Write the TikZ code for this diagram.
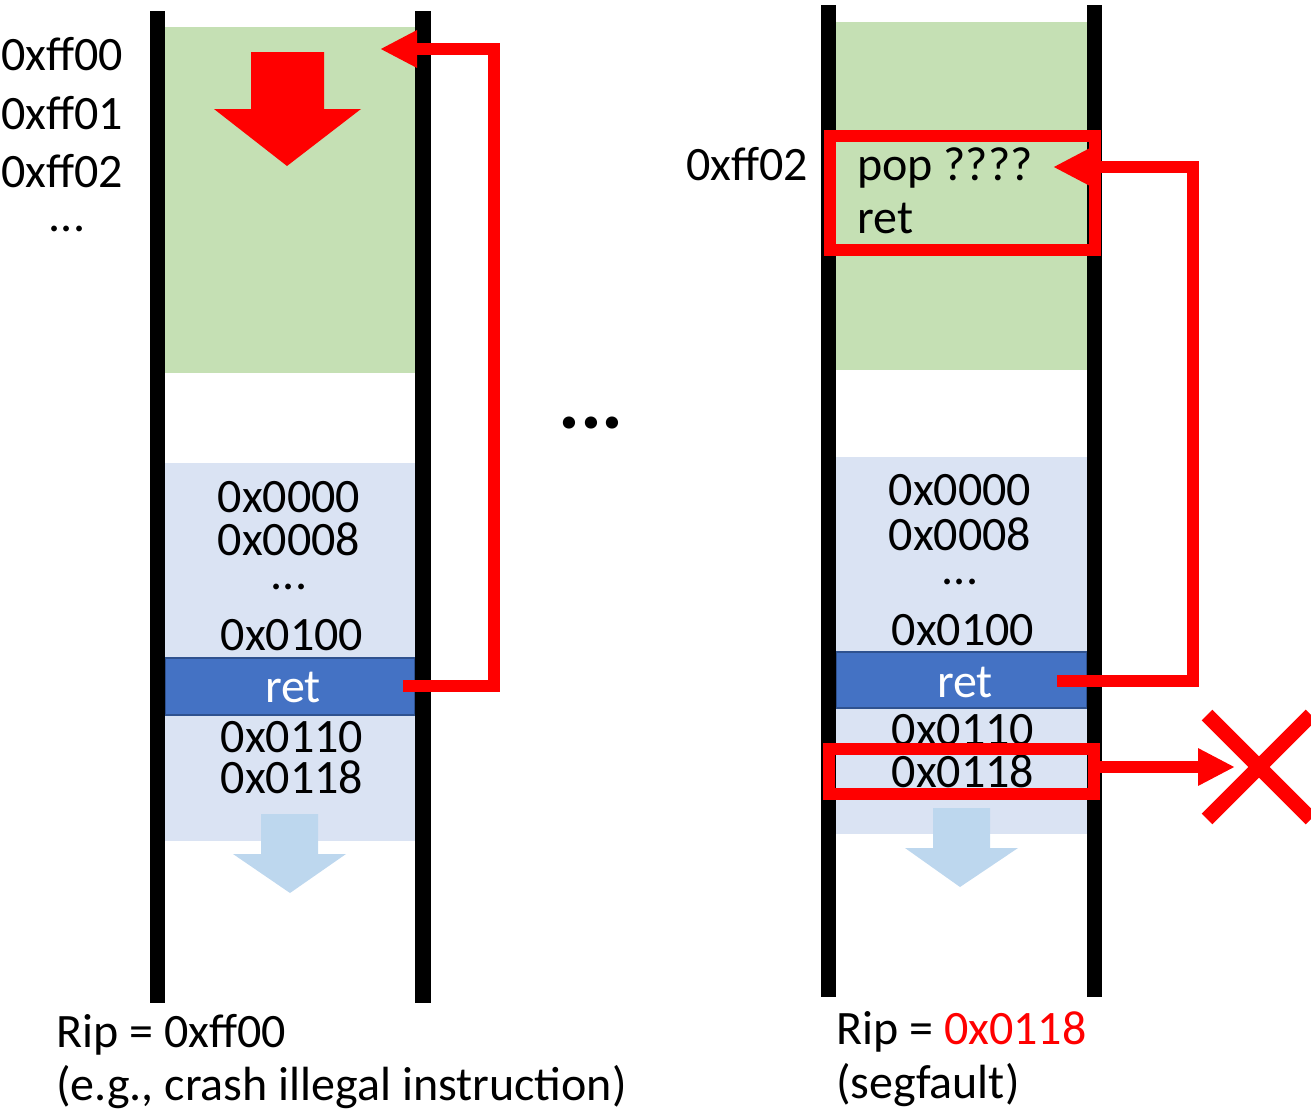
\documentclass[tikz,border=0pt]{standalone}
\usepackage{fontspec}
\setmainfont{Carlito}
\usetikzlibrary{arrows.meta}
\definecolor{gfill}{HTML}{C5E0B4}
\definecolor{bfill}{HTML}{DAE3F3}
\definecolor{retfill}{HTML}{4472C4}
\definecolor{retedge}{HTML}{2F528F}
\definecolor{larrow}{HTML}{BDD7EE}
\definecolor{xred}{HTML}{FF0000}
\begin{document}
\begin{tikzpicture}[x=1pt,y=-1pt,
  txt/.style={inner sep=0pt,font=\fontsize{48}{50}\selectfont},
  bigdots/.style={inner sep=0pt,font=\fontsize{82}{82}\selectfont\bfseries},
  bar/.style={fill=black},
  retband/.style={fill=retfill,draw=retedge,line width=1.5pt},
  redarrow/.style={draw=xred,line width=12pt,-{Triangle[length=37pt,width=35pt]}},
  redbox/.style={draw=xred,line width=12pt},
  cross/.style={draw=xred,line width=15pt}]
\useasboundingbox (0,0) rectangle (1311,1111);

% ---------- left column ----------
\fill[gfill] (165,27) rectangle (415,373);
\fill[bfill] (165,463) rectangle (415,841);
\draw[retband] (165,658) rectangle (415,715);
\fill[xred] (251,52) -- (324,52) -- (324,109) -- (361,109) -- (287,166) -- (214,109) -- (251,109) -- cycle;
\fill[larrow] (261,814) -- (318,814) -- (318,854) -- (346,854) -- (290,893) -- (233,854) -- (261,854) -- cycle;
\fill[bar] (150,11) rectangle (165,1003);
\fill[bar] (415,11) rectangle (431,1003);

\node[txt,anchor=base west] (a0) at (1,70) {0xff00};
\node[txt,anchor=base west] (a1) at (1,129) {0xff01};
\node[txt,anchor=base west] (a2) at (1,187) {0xff02};
\node[txt,anchor=base] (a3) at (67,231) {...};

\node[txt,anchor=base] (l0) at (289,512) {0x0000};
\node[txt,anchor=base] (l1) at (289,555) {0x0008};
\node[txt,anchor=base] (l2) at (289,589) {...};
\node[txt,anchor=base] (l3) at (292,650) {0x0100};
\node[txt,anchor=base,text=white] (lret) at (293,702) {ret};
\node[txt,anchor=base] (l4) at (292,752) {0x0110};
\node[txt,anchor=base] (l5) at (292,793) {0x0118};

\coordinate (Lstart) at (403,686);
\coordinate (Lbend) at (494,686);
\coordinate (Ltop) at (380,49);
\draw[redarrow] (Lstart) -- (Lbend) |- (Ltop);

\node[txt,anchor=base west] (lrip) at (56,1047) {Rip = 0xff00};
\node[txt,anchor=base west] (lnote) at (56,1100) {(e.g., crash illegal instruction)};

% ---------- middle ----------
\node[bigdots,anchor=base] (mid) at (591,428) {...};

% ---------- right column ----------
\fill[gfill] (836,22) rectangle (1087,370);
\fill[bfill] (836,457) rectangle (1087,834);
\draw[retband] (836,652) rectangle (1087,708);
\fill[larrow] (933,808) -- (990,808) -- (990,848) -- (1018,848) -- (960,887) -- (905,848) -- (933,848) -- cycle;
\fill[bar] (821,5) rectangle (836,997);
\fill[bar] (1087,5) rectangle (1102,997);

\node[txt,anchor=base west] (b0) at (686,180) {0xff02};
\node[txt,anchor=base west] (rpop) at (857,180) {pop ????};
\node[txt,anchor=base west] (rret1) at (857,233) {ret};

\node[txt,anchor=base] (r0) at (960,505) {0x0000};
\node[txt,anchor=base] (r1) at (960,550) {0x0008};
\node[txt,anchor=base] (r2) at (960,584) {...};
\node[txt,anchor=base] (r3) at (963,645) {0x0100};
\node[txt,anchor=base,text=white] (rret) at (965,697) {ret};
\node[txt,anchor=base] (r4) at (963,745) {0x0110};
\node[txt,anchor=base] (r5) at (963,787) {0x0118};

\draw[redbox] (830,136) rectangle (1095,250);
\draw[redbox] (829,749) rectangle (1094,794);

\coordinate (Rstart) at (1057,681);
\coordinate (Rbend) at (1193,681);
\coordinate (Rtop) at (1053,167);
\draw[redarrow] (Rstart) -- (Rbend) |- (Rtop);

\coordinate (Bout) at (1100,767);
\coordinate (Xtip) at (1235,767);
\draw[redarrow] (Bout) -- (Xtip);

\draw[cross] (1207,715) -- (1311,819);
\draw[cross] (1207,819) -- (1311,715);

\node[txt,anchor=base west] (rrip) at (836,1044) {Rip = \textcolor{xred}{0x0118}};
\node[txt,anchor=base west] (rnote) at (836,1098) {(segfault)};
\end{tikzpicture}
\end{document}
